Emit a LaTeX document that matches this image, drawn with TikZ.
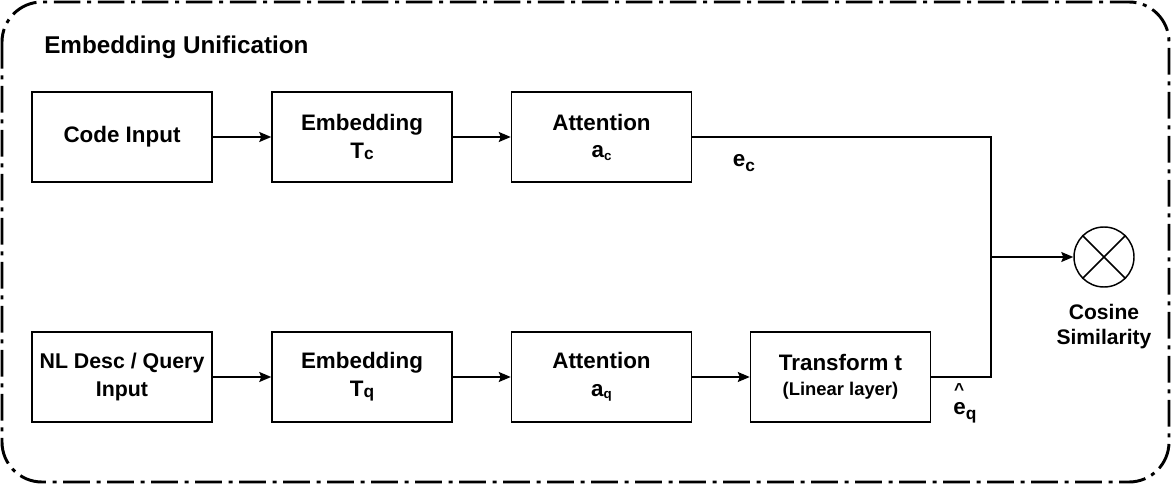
\documentclass[tikz,border=0pt]{standalone}
\usepackage{fontspec}
\setmainfont{Liberation Sans}
\usetikzlibrary{arrows.meta}
\newcommand\subtxt[3]{\raisebox{-#2}{\fontsize{#1}{#1}\selectfont #3}}
\begin{document}
\begin{tikzpicture}[x=0.75pt,y=-0.75pt,
  blk/.style={draw, line width=1.1pt, rectangle, minimum width=135pt, minimum height=67.5pt,
    inner sep=0pt, align=center, font=\fontsize{16.8}{20.5}\selectfont\bfseries},
  conn/.style={line width=1.1pt},
  arr/.style={conn, -{Stealth[length=9pt,width=7.5pt,inset=1.5pt]}},
  lbl/.style={inner sep=0pt, font=\fontsize{16.8}{20}\selectfont\bfseries}
]
\useasboundingbox (0,0) rectangle (1171,484);
\draw[line width=2.2pt, rounded corners=30pt, dash pattern=on 20pt off 5pt on 3pt off 5pt]
  (2,2) rectangle (1169,482);
\node[lbl, anchor=west, font=\fontsize{18.2}{20}\selectfont\bfseries] (title) at (44,47) {Embedding Unification};

\node[blk] (code) at (122,137) {Code Input};
\node[blk] (embc) at (362,137) {Embedding\\T\subtxt{13}{1pt}{c}};
\node[blk] (attc) at (601.5,137) {Attention\\a\subtxt{10}{2pt}{c}};

\node[blk, font=\fontsize{16}{20.5}\selectfont\bfseries] (nl) at (122,377) {NL Desc / Query\\Input};
\node[blk] (embq) at (362,377) {Embedding\\T\subtxt{13}{1pt}{q}};
\node[blk] (attq) at (601.5,377) {Attention\\a\subtxt{10}{2pt}{q}};
\node[blk] (trans) at (840.5,377) {Transform t\\[-2pt]{\fontsize{13.8}{15}\selectfont (Linear layer)}};

\node[draw, circle, line width=1.1pt, minimum size=45pt, inner sep=0pt] (cos) at (1104,257) {};
\draw[line width=1.1pt] (cos.north east) -- (cos.south west) (cos.north west) -- (cos.south east);
\node[lbl, align=center, anchor=north, font=\fontsize{15.8}{18.5}\selectfont\bfseries] (coslbl) at (1104,304) {Cosine\\Similarity};

\coordinate (jt) at (991,137);
\coordinate (jb) at (991,377);
\coordinate (jm) at (991,257);

\draw[arr] (code) -- (embc);
\draw[arr] (embc) -- (attc);
\draw[arr] (nl) -- (embq);
\draw[arr] (embq) -- (attq);
\draw[arr] (attq) -- (trans);
\draw[conn] (attc.east |- jt) -- (jt) -- (jb) -- (trans.east);
\draw[arr] (jm) -- (cos);

\node[lbl] (ec) at (744,163) {e\subtxt{13}{3.5pt}{c}};
\node[lbl, align=left] (eq) at (965,403) {\hspace{0.5pt}{\fontsize{13}{13}\selectfont\textasciicircum}\\[-5.5pt]e\subtxt{13}{3.5pt}{q}};
\end{tikzpicture}
\end{document}
